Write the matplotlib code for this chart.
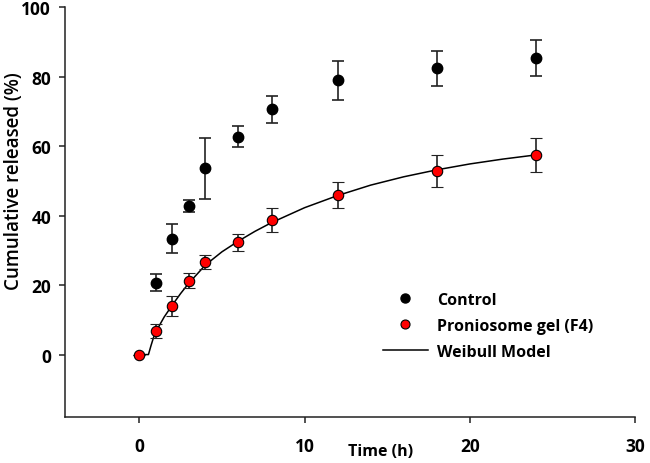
import numpy as np
import matplotlib
matplotlib.use("Agg")
import matplotlib.pyplot as plt
from matplotlib.lines import Line2D

# release data
time_h = [1, 2, 3, 4, 6, 8, 12, 18, 24]
control = [20.7, 33.4, 42.7, 53.6, 62.8, 70.6, 79.0, 82.4, 85.5]
control_err = [2.5, 4.2, 1.7, 8.9, 3.1, 3.9, 5.6, 5.0, 5.2]

gel_time = [0, 1, 2, 3, 4, 6, 8, 12, 18, 24]
gel = [0.0, 6.7, 14.0, 21.3, 26.7, 32.3, 38.8, 45.9, 53.0, 57.5]
gel_err = [0.0, 2.0, 2.8, 2.2, 2.1, 2.4, 3.4, 3.8, 4.6, 5.0]

# Weibull fit curve
fit_time = [0, 0.55, 0.7, 0.85, 1, 1.5, 2, 2.5, 3, 4, 5, 6, 7, 8, 10, 12, 14, 16, 18, 20, 22, 24]
fit_vals = [0, 0, 2.5, 4.8, 6.6, 10.8, 14.3, 17.6, 20.6, 25.8, 29.6, 32.7, 35.5, 38.0,
            42.3, 45.8, 48.8, 51.2, 53.2, 54.9, 56.3, 57.5]

plt.rcParams['font.family'] = ['Open Sans', 'DejaVu Sans']

fig = plt.figure(figsize=(6.5, 4.64), dpi=100)
ax = fig.add_axes([0.1, 0.099, 0.877, 0.883])

ax.plot(fit_time, fit_vals, color='black', lw=1.1, zorder=2)
ax.errorbar(time_h, control, yerr=control_err, fmt='o', color='black', ms=7.5,
            ecolor='#222222', elinewidth=1.2, capsize=4.5, capthick=1.2, zorder=3)
ax.errorbar(gel_time, gel, yerr=gel_err, fmt='o', mfc='red', mec='black', mew=0.8,
            ms=7.5, ecolor='#222222', elinewidth=1.2, capsize=4.5, capthick=1.2, zorder=3)

ax.set_xlim(-4.5, 30)
ax.set_ylim(-18, 100)
ax.set_xticks([0, 10, 20, 30])
ax.set_yticks([0, 20, 40, 60, 80, 100])

for s in ['top', 'right']:
    ax.spines[s].set_visible(False)
for s in ['left', 'bottom']:
    ax.spines[s].set_linewidth(1.1)
    ax.spines[s].set_color('#222222')

ax.tick_params(axis='both', direction='out', length=4, width=1.1, color='#222222',
               labelsize=12.5)
ax.tick_params(axis='x', pad=10)
ax.tick_params(axis='y', pad=6)
for lbl in ax.get_xticklabels() + ax.get_yticklabels():
    lbl.set_fontweight('bold')

ax.set_xlabel('Time (h)', fontsize=11.5, fontweight='bold', va='center')
ax.xaxis.set_label_coords(0.553, -0.083)
ax.set_ylabel('Cumulative released (%)', fontsize=13.5, fontweight='semibold', va='center')
ax.yaxis.set_label_coords(-0.09, 0.578)

handles = [
    Line2D([], [], ls='none', marker='o', color='black', ms=6.5),
    Line2D([], [], ls='none', marker='o', mfc='red', mec='black', mew=0.8, ms=6.5),
    Line2D([], [], color='black', lw=1.1),
]
labels = ['Control', 'Proniosome gel (F4)', 'Weibull Model']
leg = ax.legend(handles, labels,
                loc='upper left', bbox_to_anchor=(383 / 650, 1 - 293 / 464),
                bbox_transform=fig.transFigure, frameon=False, borderpad=0,
                borderaxespad=0, handlelength=2.8, handletextpad=0.6,
                labelspacing=0.62, prop={'size': 11.5, 'weight': 'bold'})

fig.savefig('out.png', dpi=100)
